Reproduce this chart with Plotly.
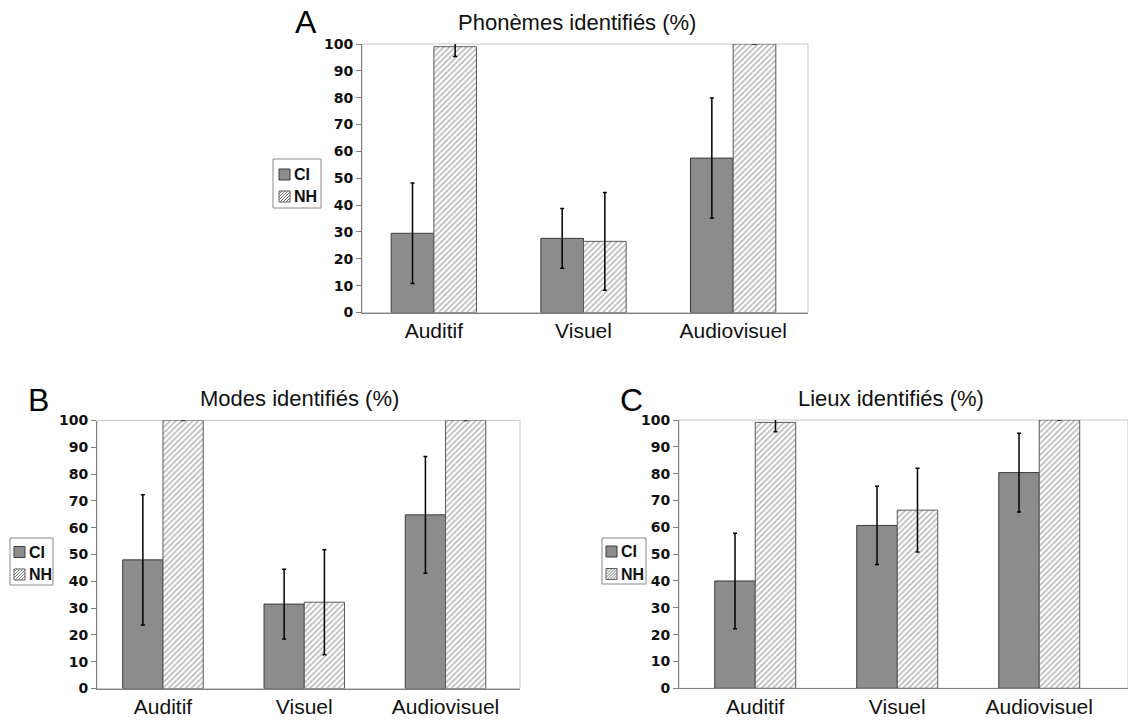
import plotly.graph_objects as go

# ---------------- data ----------------
categories = ["Auditif", "Visuel", "Audiovisuel"]
groups = ["CI", "NH"]

phonemes_ci = [29.5, 27.6, 57.5]
phonemes_ci_err = [18.7, 11.1, 22.4]
phonemes_nh = [99.0, 26.5, 100.0]
phonemes_nh_err_plus = [1.3, 18.2, 0.0]
phonemes_nh_err_minus = [3.7, 18.2, 0.0]

modes_ci = [48.0, 31.5, 64.8]
modes_ci_err = [24.3, 13.0, 21.8]
modes_nh = [100.0, 32.2, 100.0]
modes_nh_err_plus = [0.0, 19.6, 0.0]
modes_nh_err_minus = [0.0, 19.6, 0.0]

lieux_ci = [40.0, 60.7, 80.4]
lieux_ci_err = [17.8, 14.6, 14.7]
lieux_nh = [99.1, 66.4, 100.0]
lieux_nh_err_plus = [1.2, 15.6, 0.0]
lieux_nh_err_minus = [3.5, 15.6, 0.0]

titles = ["Phonèmes identifiés (%)", "Modes identifiés (%)", "Lieux identifiés (%)"]
letters = ["A", "B", "C"]
y_ticks = list(range(0, 101, 10))

# ---------------- layout helpers ----------------
W, H = 1128, 721
FONT = "Arial, Liberation Sans, sans-serif"
TICKFONT = "DejaVu Sans, Arial, sans-serif"


def fx(px):
    return px / W


def fy(py):
    return 1 - py / H


CI_COLOR = "#8c8c8c"
CI_LINE = "#3a3a3a"
NH_FG = "#777777"
NH_LINE = "#5a5a5a"

panels = [
    dict(ci=phonemes_ci, cie=phonemes_ci_err, nh=phonemes_nh,
         nhp=phonemes_nh_err_plus, nhm=phonemes_nh_err_minus,
         xd=(362, 808), yd=(44, 312.5), xr=(-0.48, 2.50),
         title_xy=(577, 23), letter_xy=(306, 22),
         legend=dict(box=(273, 159, 321, 208), sq_x=279, rows=(174.5, 196.5), tx=292)),
    dict(ci=modes_ci, cie=modes_ci_err, nh=modes_nh,
         nhp=modes_nh_err_plus, nhm=modes_nh_err_minus,
         xd=(97, 520), yd=(420.5, 688.5), xr=(-0.467, 2.527),
         title_xy=(299, 398), letter_xy=(38, 400),
         legend=dict(box=(10, 538, 53, 585), sq_x=14, rows=(552, 574.5), tx=27)),
    dict(ci=lieux_ci, cie=lieux_ci_err, nh=lieux_nh,
         nhp=lieux_nh_err_plus, nhm=lieux_nh_err_minus,
         xd=(679, 1128), yd=(420, 688.3), xr=(-0.537, 2.625),
         title_xy=(891, 398), letter_xy=(631, 400),
         legend=dict(box=(602, 538, 646, 584), sq_x=606, rows=(551.5, 574), tx=619)),
]

fig = go.Figure()
shapes = []
annotations = []

for i, p in enumerate(panels):
    n = "" if i == 0 else str(i + 1)
    xa, ya = "x" + n, "y" + n
    fig.add_trace(go.Bar(
        x=categories, y=p["ci"], name=groups[0], xaxis=xa, yaxis=ya,
        marker=dict(color=CI_COLOR, line=dict(color=CI_LINE, width=1)),
        error_y=dict(type="data", array=p["cie"], color="black", thickness=1.5, width=2),
        showlegend=False,
    ))
    fig.add_trace(go.Bar(
        x=categories, y=p["nh"], name=groups[1], xaxis=xa, yaxis=ya,
        marker=dict(color="white", line=dict(color=NH_LINE, width=1),
                    pattern=dict(shape="/", fgcolor=NH_FG, bgcolor="white",
                                 size=4, solidity=0.45)),
        error_y=dict(type="data", symmetric=False, array=p["nhp"], arrayminus=p["nhm"],
                     color="black", thickness=1.5, width=2),
        showlegend=False,
    ))

    x0, x1 = p["xd"]
    yt, yb = p["yd"]
    fig.update_layout(**{
        "xaxis" + n: dict(
            domain=[fx(x0), fx(x1)], anchor=ya, range=list(p["xr"]),
            automargin=False,
            showline=True, linecolor="#808080", linewidth=1,
            ticks="", ticklabelstandoff=-1,
            showgrid=False, zeroline=False,
            tickfont=dict(family=FONT, size=21, color="#111111"),
        ),
        "yaxis" + n: dict(
            domain=[fy(yb), fy(yt)], anchor=xa, range=[0, 100],
            automargin=False,
            tickvals=y_ticks, showline=True, linecolor="#808080", linewidth=1,
            ticks="outside", ticklen=5, tickcolor="#808080",
            showgrid=False, zeroline=False,
            tickfont=dict(family=TICKFONT, size=14, color="#111111", weight="bold"),
        ),
    })
    # plot-area frame (light)
    shapes.append(dict(type="rect", xref=xa + " domain", yref=ya + " domain",
                       x0=0, x1=1, y0=0, y1=1, layer="below",
                       line=dict(color="#c8c8c8", width=1)))
    # title and panel letter
    annotations.append(dict(text=titles[i], x=fx(p["title_xy"][0]), y=fy(p["title_xy"][1]),
                            xref="paper", yref="paper", showarrow=False,
                            xanchor="center", yanchor="middle",
                            font=dict(family=FONT, size=22, color="#111111")))
    annotations.append(dict(text=letters[i], x=fx(p["letter_xy"][0]), y=fy(p["letter_xy"][1]),
                            xref="paper", yref="paper", showarrow=False,
                            xanchor="center", yanchor="middle",
                            font=dict(family=FONT, size=32, color="black")))
    # legend (drawn manually to match the compact boxed style)
    lg = p["legend"]
    bx0, by0, bx1, by1 = lg["box"]
    shapes.append(dict(type="rect", xref="paper", yref="paper",
                       x0=fx(bx0), x1=fx(bx1), y0=fy(by1), y1=fy(by0),
                       line=dict(color="#8a8a8a", width=1), fillcolor="white"))
    sw, sh = 11, 11
    for j, (label, rc) in enumerate(zip(groups, lg["rows"])):
        sx0 = lg["sq_x"]
        sy0 = rc - sh / 2
        if j == 0:
            shapes.append(dict(type="rect", xref="paper", yref="paper",
                               x0=fx(sx0), x1=fx(sx0 + sw), y0=fy(sy0 + sh), y1=fy(sy0),
                               line=dict(color=CI_LINE, width=1), fillcolor=CI_COLOR))
        else:
            shapes.append(dict(type="rect", xref="paper", yref="paper",
                               x0=fx(sx0), x1=fx(sx0 + sw), y0=fy(sy0 + sh), y1=fy(sy0),
                               line=dict(color=NH_LINE, width=1), fillcolor="white"))
            c = 3
            while c < sw + sh:
                u0 = max(0, c - sh)
                u1 = min(sw, c)
                shapes.append(dict(type="line", xref="paper", yref="paper",
                                   x0=fx(sx0 + u0), y0=fy(sy0 + c - u0),
                                   x1=fx(sx0 + u1), y1=fy(sy0 + c - u1),
                                   line=dict(color=NH_FG, width=1)))
                c += 3
        annotations.append(dict(text=label, x=fx(lg["tx"]), y=fy(rc),
                                xref="paper", yref="paper", showarrow=False,
                                xanchor="left", yanchor="middle",
                                font=dict(family=FONT, size=16, color="#111111", weight="bold")))

fig.update_layout(
    width=W, height=H,
    margin=dict(l=0, r=0, t=0, b=0, pad=0, autoexpand=False),
    paper_bgcolor="white", plot_bgcolor="white",
    barmode="group", bargap=0.43, bargroupgap=0,
    showlegend=False,
    shapes=shapes, annotations=annotations,
    font=dict(family=FONT),
)

fig.write_html("out.html", config={"displayModeBar": False},
               post_script="document.body.style.margin='0';document.body.style.overflow='hidden';")
